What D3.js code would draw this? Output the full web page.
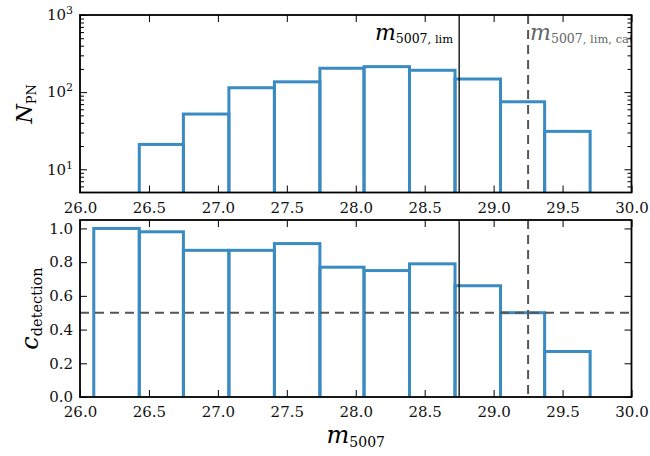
<!DOCTYPE html>
<html lang="en">

<head>
    <meta charset="utf-8">
    <title>PN counts and detection completeness</title>
    <style>
        body {
            margin: 0;
            background: #fff;
        }
        svg {
            font-family: "DejaVu Serif", serif;
        }
        .axis path {
            display: none;
        }
        .axis line {
            stroke: #000;
            stroke-width: 1;
        }
        .axis text {
            font-family: "DejaVu Serif", serif;
            font-size: 15px;
            fill: #111;
        }
        .bar {
            fill: none;
            stroke: #3a8bc2;
            stroke-width: 3;
        }
        .spine {
            fill: none;
            stroke: #000;
            stroke-width: 1.8;
        }
        .lim {
            stroke: #000;
            stroke-width: 1.3;
        }
        .dash {
            stroke: #555;
            stroke-width: 2;
            stroke-dasharray: 9, 6;
        }
    </style>
</head>

<body>
    <script src="https://cdn.jsdelivr.net/npm/d3@7"></script>
    <script>
        // bin edges of m5007 (same for both panels)
        const binEdges = [26.10, 26.43, 26.75, 27.08, 27.41, 27.74, 28.06, 28.39, 28.72, 29.05, 29.37, 29.70];
        // PN counts per bin (first bin falls below the plotted range)
        const nPN = [3, 21, 52, 114, 136, 204, 214, 192, 148, 75, 31];
        // detection completeness per bin
        const completeness = [1.00, 0.98, 0.87, 0.87, 0.91, 0.77, 0.75, 0.79, 0.66, 0.50, 0.27];

        const xTicks = [26.0, 26.5, 27.0, 27.5, 28.0, 28.5, 29.0, 29.5, 30.0];
        const cTicks = [0.0, 0.2, 0.4, 0.6, 0.8, 1.0];
        const nTicks = [10, 100, 1000];
        const nMinor = [6, 7, 8, 9, 20, 30, 40, 50, 60, 70, 80, 90, 200, 300, 400, 500, 600, 700, 800, 900];

        const mLim = 28.75;
        const mLimCat = 29.25;
        const cHalf = 0.5;

        const width = 650,
            height = 456,
            left = 80,
            right = 631.5,
            top1 = 15,
            bottom1 = 192.5,
            top2 = 220,
            bottom2 = 397;

        const bins = completeness.map((c, i) => ({
            x0: binEdges[i],
            x1: binEdges[i + 1],
            n: nPN[i],
            c: c
        }));

        const x = d3.scaleLinear().domain([26, 30]).range([left, right]);
        const yN = d3.scaleLog().domain([5, 1000]).range([bottom1, top1]);
        const yC = d3.scaleLinear().domain([0, 1.05]).range([bottom2, top2]);

        const svg = d3.select('body')
            .append('svg')
            .attr('width', width)
            .attr('height', height);

        const defs = svg.append('defs');
        defs.append('clipPath').attr('id', 'clip1')
            .append('rect')
            .attr('x', left).attr('y', top1)
            .attr('width', right - left).attr('height', bottom1 - top1);
        defs.append('clipPath').attr('id', 'clip2')
            .append('rect')
            .attr('x', left).attr('y', top2)
            .attr('width', right - left).attr('height', bottom2 - top2);

        // math-ish label: italic symbol + upright subscript
        const mathLabel = (sel, sym, sub, symSize, subSize, dy) => {
            sel.append('tspan').attr('font-style', 'italic').attr('font-size', symSize + 'px').text(sym);
            sel.append('tspan').attr('font-size', subSize + 'px').attr('dy', dy).text(sub);
        };

        // ---------- top panel: N_PN ----------
        const p1 = svg.append('g').attr('clip-path', 'url(#clip1)');
        p1.selectAll('rect')
            .data(bins)
            .join('rect')
            .attr('class', 'bar')
            .attr('x', d => x(d.x0))
            .attr('width', d => x(d.x1) - x(d.x0))
            .attr('y', d => yN(d.n))
            .attr('height', d => Math.max(0, bottom1 + 5 - yN(d.n)));

        p1.append('line').attr('class', 'lim')
            .attr('x1', x(mLim)).attr('x2', x(mLim))
            .attr('y1', top1).attr('y2', bottom1);
        p1.append('line').attr('class', 'dash')
            .attr('x1', x(mLimCat)).attr('x2', x(mLimCat))
            .attr('y1', top1).attr('y2', bottom1);

        // labels for the two limits
        const limLabel = p1.append('text')
            .attr('x', x(mLim) - 6)
            .attr('y', 40)
            .attr('text-anchor', 'end')
            .attr('fill', '#000');
        mathLabel(limLabel, 'm', '5007', 22, 12.5, 3);
        limLabel.append('tspan').attr('font-size', '11.5px').text(', lim');

        const catLabel = p1.append('text')
            .attr('x', x(mLimCat) + 2)
            .attr('y', 40)
            .attr('fill', '#666');
        mathLabel(catLabel, 'm', '5007', 22, 12.5, 3);
        catLabel.append('tspan').attr('font-size', '11.5px').text(', lim, cat');

        // axes of top panel (ticks inside)
        svg.append('g').attr('class', 'axis')
            .attr('transform', `translate(0, ${bottom1})`)
            .call(d3.axisBottom(x).tickValues(xTicks).tickSize(-7).tickPadding(10).tickFormat(d3.format('.1f')));
        svg.append('g').attr('class', 'axis')
            .attr('transform', `translate(0, ${top1})`)
            .call(d3.axisTop(x).tickValues(xTicks).tickSize(-7).tickFormat(''));

        const yNAxis = svg.append('g').attr('class', 'axis')
            .attr('transform', `translate(${left}, 0)`)
            .call(d3.axisLeft(yN).tickValues(nTicks).tickSize(-7).tickPadding(7));
        yNAxis.selectAll('.tick text').each(function (d) {
            const t = d3.select(this).text(null);
            t.append('tspan').text('10');
            t.append('tspan').attr('dy', '-0.55em').attr('font-size', '11px').text(Math.round(Math.log10(d)));
        });
        svg.append('g').attr('class', 'axis')
            .attr('transform', `translate(${left}, 0)`)
            .call(d3.axisLeft(yN).tickValues(nMinor).tickSize(-4).tickFormat(''));
        svg.append('g').attr('class', 'axis')
            .attr('transform', `translate(${right}, 0)`)
            .call(d3.axisRight(yN).tickValues(nTicks).tickSize(-7).tickFormat(''));
        svg.append('g').attr('class', 'axis')
            .attr('transform', `translate(${right}, 0)`)
            .call(d3.axisRight(yN).tickValues(nMinor).tickSize(-4).tickFormat(''));

        svg.append('rect').attr('class', 'spine')
            .attr('x', left).attr('y', top1)
            .attr('width', right - left).attr('height', bottom1 - top1);

        const nLabel = svg.append('text')
            .attr('transform', `translate(32, ${(top1 + bottom1) / 2}) rotate(-90)`)
            .attr('text-anchor', 'middle');
        mathLabel(nLabel, 'N', 'PN', 22, 13, 4);

        // ---------- bottom panel: completeness ----------
        const p2 = svg.append('g').attr('clip-path', 'url(#clip2)');
        p2.selectAll('rect')
            .data(bins)
            .join('rect')
            .attr('class', 'bar')
            .attr('x', d => x(d.x0))
            .attr('width', d => x(d.x1) - x(d.x0))
            .attr('y', d => yC(d.c))
            .attr('height', d => bottom2 + 5 - yC(d.c));

        p2.append('line').attr('class', 'lim')
            .attr('x1', x(mLim)).attr('x2', x(mLim))
            .attr('y1', top2).attr('y2', bottom2);
        p2.append('line').attr('class', 'dash')
            .attr('x1', x(mLimCat)).attr('x2', x(mLimCat))
            .attr('y1', top2).attr('y2', bottom2);
        p2.append('line').attr('class', 'dash')
            .attr('x1', left).attr('x2', right)
            .attr('y1', yC(cHalf)).attr('y2', yC(cHalf));

        svg.append('g').attr('class', 'axis')
            .attr('transform', `translate(0, ${bottom2})`)
            .call(d3.axisBottom(x).tickValues(xTicks).tickSize(-7).tickPadding(9).tickFormat(d3.format('.1f')));
        svg.append('g').attr('class', 'axis')
            .attr('transform', `translate(0, ${top2})`)
            .call(d3.axisTop(x).tickValues(xTicks).tickSize(-7).tickFormat(''));
        svg.append('g').attr('class', 'axis')
            .attr('transform', `translate(${left}, 0)`)
            .call(d3.axisLeft(yC).tickValues(cTicks).tickSize(-7).tickPadding(7).tickFormat(d3.format('.1f')));
        svg.append('g').attr('class', 'axis')
            .attr('transform', `translate(${right}, 0)`)
            .call(d3.axisRight(yC).tickValues(cTicks).tickSize(-7).tickFormat(''));

        svg.append('rect').attr('class', 'spine')
            .attr('x', left).attr('y', top2)
            .attr('width', right - left).attr('height', bottom2 - top2);

        const cLabel = svg.append('text')
            .attr('transform', `translate(38, ${(top2 + bottom2) / 2}) rotate(-90)`)
            .attr('text-anchor', 'middle');
        mathLabel(cLabel, 'c', 'detection', 24, 14.5, 4);

        // x axis title
        const xLabel = svg.append('text')
            .attr('x', (left + right) / 2)
            .attr('y', 443)
            .attr('text-anchor', 'middle');
        mathLabel(xLabel, 'm', '5007', 24, 14, 3.5);
    </script>
</body>

</html>
